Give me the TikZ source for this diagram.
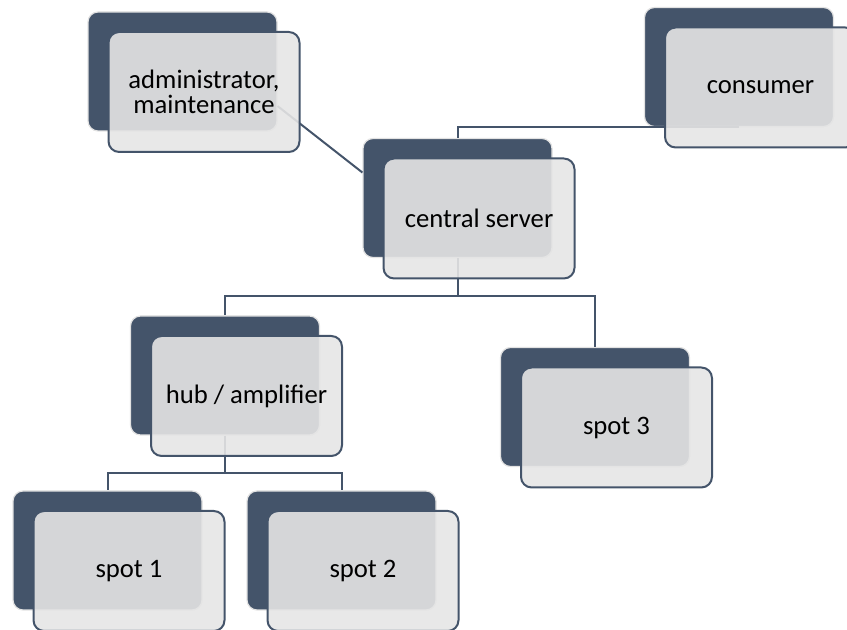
\documentclass[tikz,border=0pt]{standalone}
\usepackage{fontspec}
\setmainfont{Carlito}
\usetikzlibrary{positioning}
\definecolor{slate}{HTML}{44546A}
\definecolor{paper}{HTML}{E5E5E5}
\definecolor{rim}{HTML}{E2E2E2}
\tikzset{
	backbox/.style={rectangle, rounded corners=7.5pt, fill=slate, draw=rim, line width=0.9pt, minimum width=141.75pt, minimum height=89.25pt},
	frontbox/.style={rectangle, rounded corners=8pt, fill=paper, fill opacity=0.9, text opacity=1, draw=slate, line width=1.5pt, minimum width=143.25pt, minimum height=90pt, align=center, font=\fontsize{20}{19}\selectfont},
	link/.style={draw=slate, line width=1.5pt}
}
\begin{document}
\begin{tikzpicture}[x=0.75pt, y=-0.75pt]
		\useasboundingbox (0,0) rectangle (847,630);
		% dark boxes behind
		\node[backbox] (admin-b) at (182.5,71.5) {};
		\node[backbox] (consumer-b) at (739,67) {};
		\node[backbox] (server-b) at (457.5,198) {};
		\node[backbox] (hub-b) at (225,375.5) {};
		\node[backbox] (spot3-b) at (595,407) {};
		\node[backbox] (spot1-b) at (107.5,550.5) {};
		\node[backbox] (spot2-b) at (341.5,550.5) {};
		% connectors
		\draw[link] (admin-b.-20) -- (server-b.165);
		\draw[link] (server-b.north) |- (consumer-b.south);
		\draw[link] (server-b.south) -- ++(0,38) -| (hub-b.north);
		\draw[link] (server-b.south) -- ++(0,38) -| (spot3-b.north);
		\draw[link] (hub-b.south) -- ++(0,37.5) -| (spot1-b.north);
		\draw[link] (hub-b.south) -- ++(0,37.5) -| (spot2-b.north);
		% light boxes in front
		\foreach \n/\t in {admin/{administrator,\\maintenance}, consumer/consumer, server/central server, hub/{hub / amplifier}, spot3/spot 3, spot1/spot 1, spot2/spot 2}{
			\node[frontbox, shift={(21.5,20.5)}] (\n) at (\n-b) {\t};
		}
	\end{tikzpicture}
\end{document}
